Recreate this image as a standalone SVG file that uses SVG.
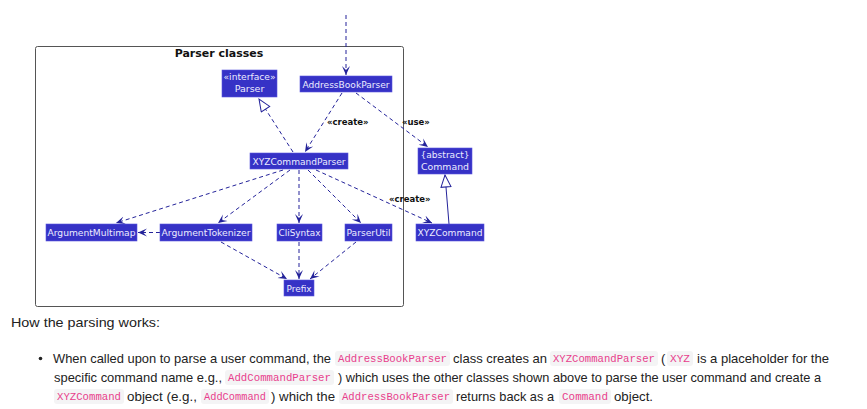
<svg xmlns="http://www.w3.org/2000/svg" width="867" height="409" viewBox="0 0 867 409">
<style>
.node rect{fill:#3632c6;stroke:#5a56dc;stroke-width:0.6}
.node text{font-family:"DejaVu Sans",sans-serif;font-size:9.5px;fill:#ececff;text-anchor:middle}
.edge{fill:none;stroke:#24239a;stroke-width:1}
.dash{stroke-dasharray:4,3}
.lbl{font-family:"DejaVu Sans",sans-serif;font-size:8.5px;font-weight:bold;fill:#111}
.body{font-family:"Liberation Sans","Helvetica",sans-serif;font-size:13px;fill:#222}
.code{font-family:"Liberation Mono",monospace;font-size:10.5px;fill:#e83e8c}
.cbg{fill:#f4f4f5}
</style>
<defs>
<marker id="arr" viewBox="0 0 10 10" refX="9" refY="5" markerWidth="10" markerHeight="10" markerUnits="userSpaceOnUse" orient="auto">
<path d="M0,1 L9,5 L0,9 L4,5 Z" fill="#24239a"/>
</marker>
<marker id="tri" viewBox="0 0 14 12" refX="13" refY="6" markerWidth="14" markerHeight="12" markerUnits="userSpaceOnUse" orient="auto">
<path d="M1,1 L13,6 L1,11 Z" fill="#fff" stroke="#24239a" stroke-width="1"/>
</marker>
</defs>
<rect width="867" height="409" fill="#fff"/>

<g id="package">
<rect x="35.5" y="46.5" width="368" height="260" rx="2" fill="#fff" stroke="#555" stroke-width="1"/>
<text x="219" y="57" font-family="DejaVu Sans,sans-serif" font-size="11px" font-weight="bold" fill="#111" text-anchor="middle">Parser classes</text>
</g>

<g id="connectors">
<path class="edge dash" d="M346,15 L346,75" marker-end="url(#arr)"/>
<path class="edge dash" d="M293,152 L259,99" marker-end="url(#tri)"/>
<path class="edge dash" d="M342,93 L305,152" marker-end="url(#arr)"/>
<text class="lbl" x="327" y="125">«create»</text>
<path class="edge dash" d="M356,93 L428,147" marker-end="url(#arr)"/>
<text class="lbl" x="402" y="125">«use»</text>
<path class="edge dash" d="M283,170 L116,223" marker-end="url(#arr)"/>
<path class="edge dash" d="M290,170 L218,223" marker-end="url(#arr)"/>
<path class="edge dash" d="M299,170 L299,223" marker-end="url(#arr)"/>
<path class="edge dash" d="M308,170 L361,223" marker-end="url(#arr)"/>
<path class="edge dash" d="M316,170 L432,223" marker-end="url(#arr)"/>
<text class="lbl" x="389" y="202">«create»</text>
<path class="edge dash" d="M160,232.5 L138,232.5" marker-end="url(#arr)"/>
<path class="edge dash" d="M221,242 L287,279" marker-end="url(#arr)"/>
<path class="edge dash" d="M299,242 L299,279" marker-end="url(#arr)"/>
<path class="edge dash" d="M356,242 L310,279" marker-end="url(#arr)"/>
<path class="edge" d="M449,224 L445,175" marker-end="url(#tri)"/>
</g>

<g id="Parser" class="node"><rect x="222" y="70" width="55" height="27"/><text x="249.5" y="80" textLength="52" lengthAdjust="spacingAndGlyphs">«interface»</text><text x="249.5" y="92">Parser</text></g>
<g id="AddressBookParser" class="node"><rect x="300" y="76" width="92" height="16"/><text x="346" y="87.5" textLength="87" lengthAdjust="spacingAndGlyphs">AddressBookParser</text></g>
<g id="XYZCommandParser" class="node"><rect x="250" y="153" width="98" height="16"/><text x="299" y="164.5" textLength="93" lengthAdjust="spacingAndGlyphs">XYZCommandParser</text></g>
<g id="Command" class="node"><rect x="418" y="148" width="54" height="26"/><text x="445" y="158" textLength="49" lengthAdjust="spacingAndGlyphs">{abstract}</text><text x="445" y="170" textLength="48" lengthAdjust="spacingAndGlyphs">Command</text></g>
<g id="ArgumentMultimap" class="node"><rect x="46" y="224" width="91" height="17"/><text x="91.5" y="236" textLength="88" lengthAdjust="spacingAndGlyphs">ArgumentMultimap</text></g>
<g id="ArgumentTokenizer" class="node"><rect x="160" y="224" width="92" height="17"/><text x="206" y="236" textLength="89" lengthAdjust="spacingAndGlyphs">ArgumentTokenizer</text></g>
<g id="CliSyntax" class="node"><rect x="277" y="224" width="45" height="17"/><text x="299.5" y="236" textLength="42" lengthAdjust="spacingAndGlyphs">CliSyntax</text></g>
<g id="ParserUtil" class="node"><rect x="345" y="224" width="47" height="17"/><text x="368.5" y="236" textLength="44" lengthAdjust="spacingAndGlyphs">ParserUtil</text></g>
<g id="XYZCommand" class="node"><rect x="416" y="224" width="68" height="17"/><text x="450" y="236" textLength="65" lengthAdjust="spacingAndGlyphs">XYZCommand</text></g>
<g id="Prefix" class="node"><rect x="284" y="280" width="30" height="16"/><text x="299" y="291.5" textLength="25" lengthAdjust="spacingAndGlyphs">Prefix</text></g>

<g id="prose">
<text class="body" x="11" y="327" textLength="149" lengthAdjust="spacingAndGlyphs">How the parsing works:</text>
<circle cx="40.5" cy="358.5" r="1.8" fill="#222"/>
<rect class="cbg" x="335" y="351" width="115" height="15" rx="3"/>
<rect class="cbg" x="550" y="351" width="108" height="15" rx="3"/>
<rect class="cbg" x="667" y="351" width="26" height="15" rx="3"/>
<rect class="cbg" x="225" y="370" width="109" height="15" rx="3"/>
<rect class="cbg" x="54" y="389" width="70" height="15" rx="3"/>
<rect class="cbg" x="201" y="389" width="68" height="15" rx="3"/>
<rect class="cbg" x="339" y="389" width="114" height="15" rx="3"/>
<rect class="cbg" x="559" y="389" width="52" height="15" rx="3"/>

<text class="body" x="53" y="363" textLength="278" lengthAdjust="spacingAndGlyphs">When called upon to parse a user command, the</text>
<text class="code" x="338" y="362" textLength="109" lengthAdjust="spacingAndGlyphs">AddressBookParser</text>
<text class="body" x="453" y="363" textLength="94" lengthAdjust="spacingAndGlyphs">class creates an</text>
<text class="code" x="553" y="362" textLength="102" lengthAdjust="spacingAndGlyphs">XYZCommandParser</text>
<text class="body" x="661" y="363">(</text>
<text class="code" x="670" y="362" textLength="20" lengthAdjust="spacingAndGlyphs">XYZ</text>
<text class="body" x="697" y="363" textLength="132" lengthAdjust="spacingAndGlyphs">is a placeholder for the</text>

<text class="body" x="54" y="382" textLength="168" lengthAdjust="spacingAndGlyphs">specific command name e.g.,</text>
<text class="code" x="228" y="381" textLength="103" lengthAdjust="spacingAndGlyphs">AddCommandParser</text>
<text class="body" x="338" y="382" textLength="483" lengthAdjust="spacingAndGlyphs">) which uses the other classes shown above to parse the user command and create a</text>

<text class="code" x="57" y="400" textLength="64" lengthAdjust="spacingAndGlyphs">XYZCommand</text>
<text class="body" x="127" y="401" textLength="70" lengthAdjust="spacingAndGlyphs">object (e.g.,</text>
<text class="code" x="204" y="400" textLength="62" lengthAdjust="spacingAndGlyphs">AddCommand</text>
<text class="body" x="271" y="401" textLength="64" lengthAdjust="spacingAndGlyphs">) which the</text>
<text class="code" x="342" y="400" textLength="108" lengthAdjust="spacingAndGlyphs">AddressBookParser</text>
<text class="body" x="456" y="401" textLength="98" lengthAdjust="spacingAndGlyphs">returns back as a</text>
<text class="code" x="562" y="400" textLength="46" lengthAdjust="spacingAndGlyphs">Command</text>
<text class="body" x="614" y="401" textLength="39" lengthAdjust="spacingAndGlyphs">object.</text>
</g>
</svg>
